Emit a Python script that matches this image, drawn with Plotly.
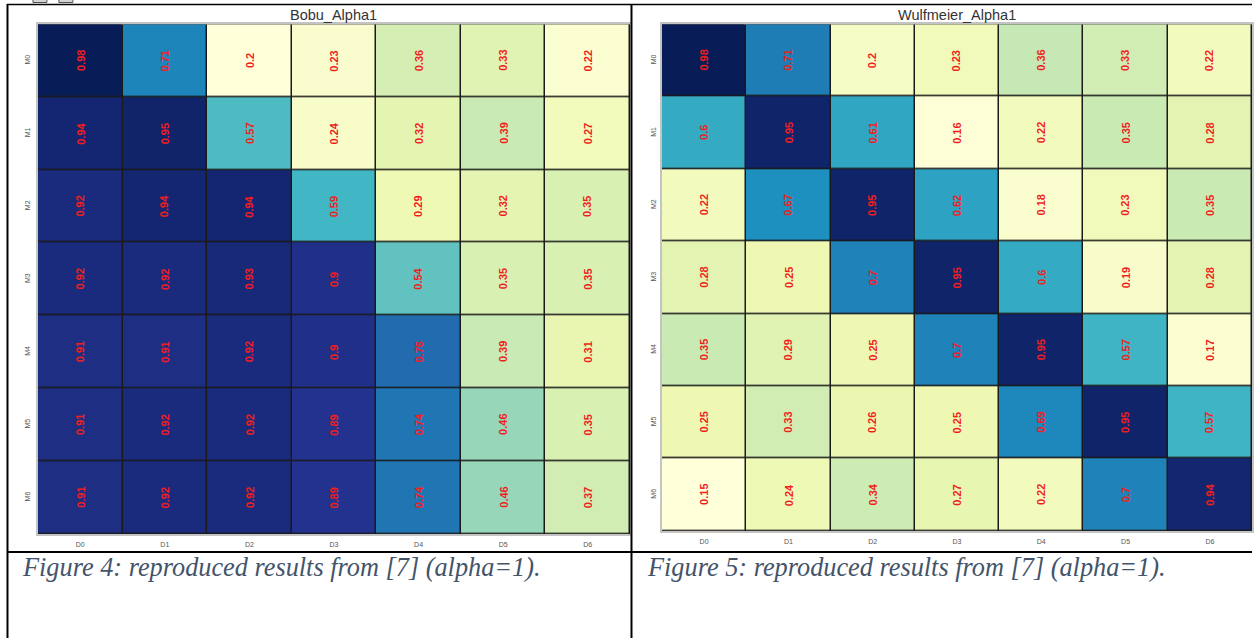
import plotly.graph_objects as go

# Row / column categories shared by both heatmaps
rows = ["M0", "M1", "M2", "M3", "M4", "M5", "M6"]
cols = ["D0", "D1", "D2", "D3", "D4", "D5", "D6"]

# Accuracy matrices (rows: model M*, columns: domain D*)
bobu_alpha1 = [
    [0.98, 0.71, 0.20, 0.23, 0.36, 0.33, 0.22],
    [0.94, 0.95, 0.57, 0.24, 0.32, 0.39, 0.27],
    [0.92, 0.94, 0.94, 0.59, 0.29, 0.32, 0.35],
    [0.92, 0.92, 0.93, 0.90, 0.54, 0.35, 0.35],
    [0.91, 0.91, 0.92, 0.90, 0.76, 0.39, 0.31],
    [0.91, 0.92, 0.92, 0.89, 0.74, 0.46, 0.35],
    [0.91, 0.92, 0.92, 0.89, 0.74, 0.46, 0.37],
]
wulfmeier_alpha1 = [
    [0.98, 0.71, 0.20, 0.23, 0.36, 0.33, 0.22],
    [0.60, 0.95, 0.61, 0.16, 0.22, 0.35, 0.28],
    [0.22, 0.67, 0.95, 0.62, 0.18, 0.23, 0.35],
    [0.28, 0.25, 0.70, 0.95, 0.60, 0.19, 0.28],
    [0.35, 0.29, 0.25, 0.70, 0.95, 0.57, 0.17],
    [0.25, 0.33, 0.26, 0.25, 0.69, 0.95, 0.57],
    [0.15, 0.24, 0.34, 0.27, 0.22, 0.70, 0.94],
]

titles = ["Bobu_Alpha1", "Wulfmeier_Alpha1"]
captions = [
    "Figure 4: reproduced results from [7] (alpha=1).",
    "Figure 5: reproduced results from [7] (alpha=1).",
]

W, H = 1254, 638

ylgnbu = ["#ffffd9", "#edf8b1", "#c7e9b4", "#7fcdbb", "#41b6c4",
          "#1d91c0", "#225ea8", "#253494", "#081d58"]
colorscale = [[i / (len(ylgnbu) - 1), c] for i, c in enumerate(ylgnbu)]


def px_x(v):
    return v / W


def px_y(v):
    return 1 - v / H


# plot areas in pixels: (left, right, top, bottom)
areas = [(38, 631, 24.3, 534), (663, 1254, 24.3, 531)]

fig = go.Figure()
annotations = []
for k, (z, title, cap, area) in enumerate(zip([bobu_alpha1, wulfmeier_alpha1], titles, captions, areas)):
    xa = "x" if k == 0 else "x2"
    ya = "y" if k == 0 else "y2"
    fig.add_trace(go.Heatmap(
        z=z, x=cols, y=rows, xaxis=xa, yaxis=ya,
        colorscale=colorscale, showscale=False,
        xgap=1.5, ygap=1.5, hoverinfo="skip",
    ))
    for i, r in enumerate(rows):
        for j, c in enumerate(cols):
            annotations.append(dict(
                x=c, y=r, xref=xa, yref=ya, text=f"{z[i][j]:g}",
                textangle=-90, showarrow=False,
                font=dict(family="Liberation Sans, Arial", size=11,
                          color="#f01e1e", weight="bold"),
            ))
    l, r_, t, b = area
    annotations.append(dict(
        x=px_x((l + r_) / 2), y=px_y(t - 9.5), xref="paper", yref="paper",
        text=title, showarrow=False, xanchor="center", yanchor="middle",
        font=dict(family="Liberation Sans, Arial", size=14.5, color="#333333"),
    ))
    annotations.append(dict(
        x=px_x(20 if k == 0 else 646), y=px_y(567), xref="paper", yref="paper",
        text=f"<i>{cap}</i>", showarrow=False, xanchor="left", yanchor="middle",
        font=dict(family="Liberation Serif", size=26.3, color="#44546a"),
    ))

axis_common = dict(
    showgrid=False, zeroline=False, showline=True, mirror=True,
    linecolor="#c4c4c4", linewidth=1.5, ticks="",
    tickfont=dict(family="Liberation Sans, Arial", size=7, color="#555555"),
)

l0, r0, t0, b0 = areas[0]
l1, r1, t1, b1 = areas[1]
fig.update_layout(
    width=W, height=H, autosize=False,
    margin=dict(l=0, r=0, t=0, b=0),
    paper_bgcolor="white", plot_bgcolor="#1a1a1a",
    showlegend=False,
    xaxis=dict(domain=[px_x(l0), px_x(r0)], anchor="y", ticklabelstandoff=3, **axis_common),
    yaxis=dict(domain=[px_y(b0), px_y(t0)], anchor="x", autorange="reversed",
               tickangle=-90, ticklabelstandoff=3, **axis_common),
    xaxis2=dict(domain=[px_x(l1), px_x(r1)], anchor="y2", ticklabelstandoff=3, **axis_common),
    yaxis2=dict(domain=[px_y(b1), px_y(t1)], anchor="x2", autorange="reversed",
                tickangle=-90, ticklabelstandoff=1, **axis_common),
    annotations=annotations,
)

# document table rules framing the two figure cells
rules = [
    (7, 4.5, W, 4.5, 1.5),
    (7, 552, W, 552, 2),
    (7.5, 4, 7.5, H, 2),
    (632.5, 4, 632.5, H, 2),
]
shapes = []
for x0, y0, x1, y1, w in rules:
    shapes.append(dict(type="line", xref="paper", yref="paper",
                       x0=px_x(x0), y0=px_y(y0), x1=px_x(x1), y1=px_y(y1),
                       line=dict(color="black", width=w)))
for x0, x1 in [(33, 47), (59, 73)]:
    shapes.append(dict(type="rect", xref="paper", yref="paper",
                       x0=px_x(x0), y0=px_y(2.5), x1=px_x(x1), y1=px_y(-1),
                       fillcolor="#d4d4d4", line=dict(color="#555555", width=1)))
fig.update_layout(shapes=shapes)

fig.write_html("out.html")
